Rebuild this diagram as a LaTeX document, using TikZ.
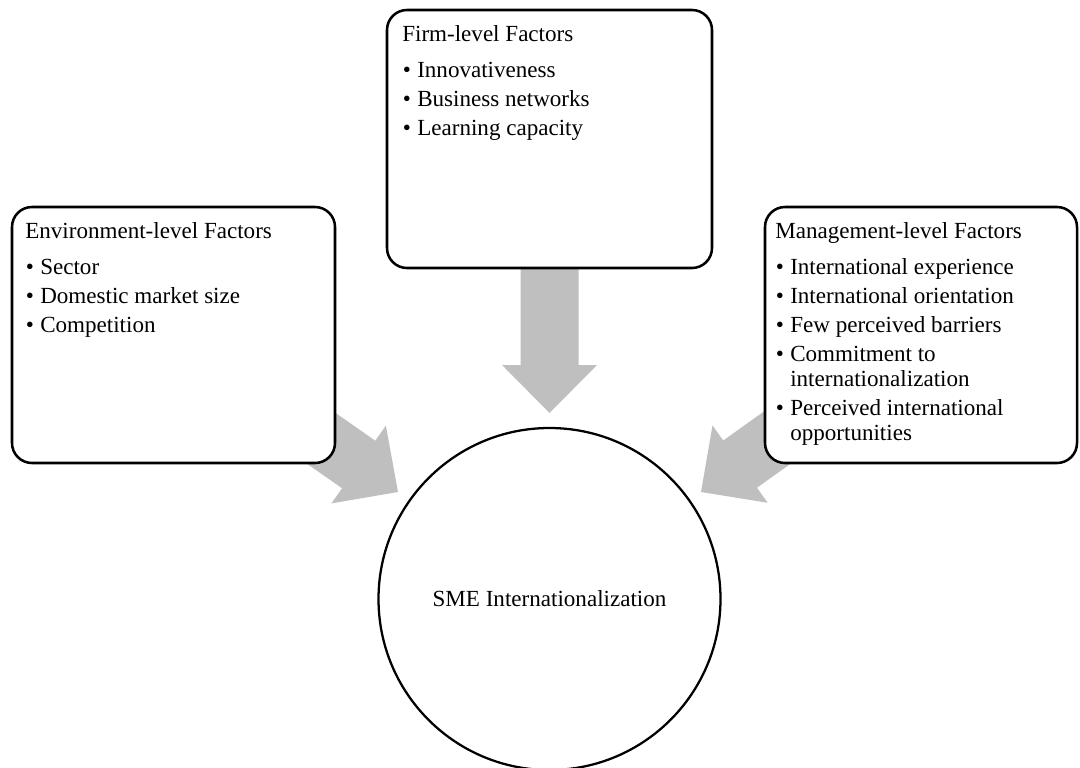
\documentclass[tikz,border=0pt]{standalone}
\usepackage{fontspec}
\setmainfont{Liberation Serif}
\usetikzlibrary{calc,backgrounds}
\definecolor{arrowgray}{RGB}{191,191,191}
\newcommand{\bitem}{\makebox[11.25pt][l]{\hspace{0.4pt}\textbullet}}
\newcommand{\indentline}{\hspace*{11.25pt}}
% block arrow from #1 (tail, hidden) to #2 (tip)
\newcommand{\blockarrow}[2]{%
  \coordinate (ba-m) at ($(#2)!36pt!(#1)$);
  \fill[arrowgray] ($(#1)!21.75pt!90:(#2)$) -- ($(ba-m)!21.75pt!90:(#2)$)
    -- ($(ba-m)!35.6pt!90:(#2)$) -- (#2) -- ($(ba-m)!35.6pt!-90:(#2)$)
    -- ($(ba-m)!21.75pt!-90:(#2)$) -- ($(#1)!21.75pt!-90:(#2)$) -- cycle;}
\tikzset{
  factorbox/.style={draw, line width=1.9pt, rounded corners=15pt, fill=white, inner sep=0pt},
  boxtext/.style={inner sep=0pt, anchor=base west, font=\fontsize{17.3}{18.75}\selectfont},
  smecircle/.style={draw, circle, line width=1.7pt, minimum size=256.5pt, inner sep=0pt, fill=white,
    font=\fontsize{17.3}{18.75}\selectfont}
}
\begin{document}
\begin{tikzpicture}[x=0.75pt, y=-0.75pt]
\useasboundingbox (0,0) rectangle (1080,767);

% boxes
\node[factorbox, minimum width=242.25pt, minimum height=192pt] (env) at (173.5,335) {};
\node[factorbox, minimum width=243.75pt, minimum height=193.5pt] (firm) at (549.5,139) {};
\node[factorbox, minimum width=234pt, minimum height=192pt] (mgmt) at (921,335) {};

% box texts
\node[boxtext] (envtxt) at (25,238) {\begin{tabular}[t]{@{}l@{}}
Environment-level Factors\\[8.25pt]
\bitem Sector\\[3pt]
\bitem Domestic market size\\[3pt]
\bitem Competition
\end{tabular}};

\node[boxtext] (firmtxt) at (402,41) {\begin{tabular}[t]{@{}l@{}}
Firm-level Factors\\[8.25pt]
\bitem Innovativeness\\[3pt]
\bitem Business networks\\[3pt]
\bitem Learning capacity
\end{tabular}};

\node[boxtext] (mgmttxt) at (775,238) {\begin{tabular}[t]{@{}l@{}}
Management-level Factors\\[8.25pt]
\bitem International experience\\[3pt]
\bitem International orientation\\[3pt]
\bitem Few perceived barriers\\[3pt]
\bitem Commitment to\\
\indentline internationalization\\[3pt]
\bitem Perceived international\\
\indentline opportunities
\end{tabular}};

% central circle
\node[smecircle] (sme) at (549.5,599) {SME Internationalization};

% arrow tips
\coordinate (tipL) at (398,492);
\coordinate (tipT) at (549.5,413);
\coordinate (tipR) at (701,492);

% block arrows behind the boxes
\begin{scope}[on background layer]
  \fill[white] (0,0) rectangle (1080,767);
  \blockarrow{env.center}{tipL}
  \blockarrow{firm.center}{tipT}
  \blockarrow{mgmt.center}{tipR}
\end{scope}
\end{tikzpicture}
\end{document}
